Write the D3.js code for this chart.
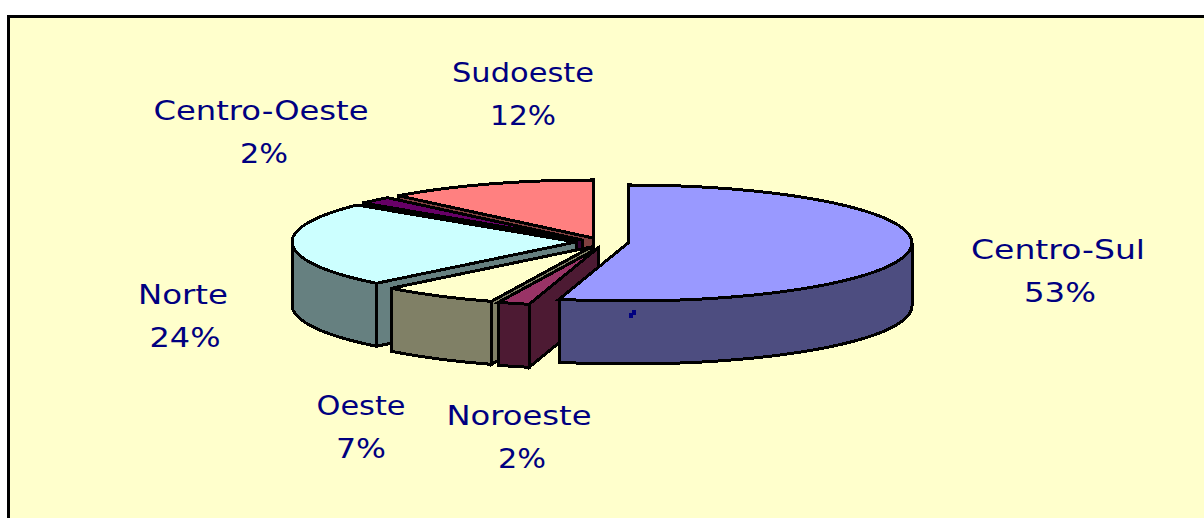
<!DOCTYPE html>
<html><head><meta charset="utf-8">
<script src="https://cdn.jsdelivr.net/npm/d3@7/dist/d3.min.js"></script>
<style>html,body{margin:0;padding:0;background:#fff;overflow:hidden}svg{display:block}</style>
</head><body><svg id="c" width="1204" height="518"></svg>
<script>
// Slice order as drawn, clockwise from 12 o'clock
const categories = ["Centro-Sul","Noroeste","Oeste","Norte","Centro-Oeste","Sudoeste"];
const sliceShares = [53.9,1.8,6.7,23.6,2.0,12.0];
// Printed percentages
const percentLabels = ["53%","2%","7%","24%","2%","12%"];
const topColors = ["#9999FF","#993366","#FFFFCC","#CCFFFF","#660066","#FF8080"];
const sideColors = ["#4D4D80","#4D1A33","#808066","#668080","#330033","#804040"];
// Layout: explosion offset of each slice from the pie centre
const offsetX = [33,3,-4,-19,-13,-2];
const offsetY = [4,9,8,3,1,-1];
const labelX = [1058,519,361,183,261,523];
const labelY = [259,425,415,304,120,82];
const pctX = [1060,522,361,185,264,523];
const nameWidth = [174,145,89,90,215,142];
const pctWidth = [72,48,50,71,48,66];

const W=1204,H=518, cx=595, cy=239, rx=284, ry=58, depth=63;
const svg=d3.select("#c");
const x=d3.scaleLinear().domain([-1,1]).range([cx-rx,cx+rx]);
const y=d3.scaleLinear().domain([-1,1]).range([cy+ry,cy-ry]);
const line=d3.line();
const pie=d3.pie().sort(null)(sliceShares);

svg.append("rect").attr("width",W).attr("height",H).attr("fill","#fff");
// Panel: open on the right and bottom, cropped by the frame
svg.append("rect").attr("x",8).attr("y",16).attr("width",W).attr("height",H)
  .attr("fill","#FFFFCC").attr("stroke","#000").attr("stroke-width",3)
  .attr("shape-rendering","crispEdges");

function pt(i,a,r,drop){return [x(r*Math.sin(a))+offsetX[i], y(r*Math.cos(a))+offsetY[i]+(drop||0)];}
function arcPts(i,a0,a1,drop){
  const n=Math.max(2,Math.ceil(Math.abs(a1-a0)/0.03));
  return d3.range(n+1).map(k=>pt(i,a0+(a1-a0)*k/n,1,drop));
}
const drawOrder=[5,4,3,2,1,0];
const stroke=(sel)=>sel.attr("stroke","#000").attr("stroke-width",3).attr("stroke-linejoin","miter").attr("shape-rendering","crispEdges");
const g=svg.append("g");
drawOrder.forEach(i=>{
  const a=pie[i].startAngle,b=pie[i].endAngle;
  const slice=g.append("g").attr("class","slice").datum(categories[i]);
  const face=(ang)=>{const o=pt(i,ang,0),e=pt(i,ang,1),o2=pt(i,ang,0,depth),e2=pt(i,ang,1,depth);
    slice.append("path").attr("d",line([o,e,e2,o2])+"Z").attr("fill",sideColors[i]).call(stroke);};
  if(Math.sin(a)<-1e-6) face(a);
  if(Math.sin(b)>1e-6) face(b);
  const w0=Math.max(a,Math.PI/2),w1=Math.min(b,Math.PI*3/2);
  if(w1>w0){
    const topArc=arcPts(i,w0,w1,0),botArc=arcPts(i,w1,w0,depth);
    slice.append("path").attr("d",line(topArc.concat(botArc))+"Z").attr("fill",sideColors[i]).call(stroke);
  }
  slice.append("path").attr("d",line([pt(i,a,0)].concat(arcPts(i,a,b,0)))+"Z").attr("fill",topColors[i]).call(stroke);
});

// Small stray navy fleck on the Centro-Sul wall
svg.append("path").attr("d","M629,318V313H632V310H636V315H633V318Z").attr("fill","#000080").attr("shape-rendering","crispEdges");

const labels=svg.append("g").attr("font-family","'DejaVu Sans'").attr("font-size",26).attr("fill","#000080").attr("text-anchor","middle");
function put(txt,px,py,w){
  labels.append("text").attr("x",px).attr("y",py).attr("textLength",w).attr("lengthAdjust","spacingAndGlyphs").text(txt);
}
categories.forEach((c,i)=>{
  put(c,labelX[i],labelY[i],nameWidth[i]);
  put(percentLabels[i],pctX[i],labelY[i]+43,pctWidth[i]);
});
</script></body></html>
